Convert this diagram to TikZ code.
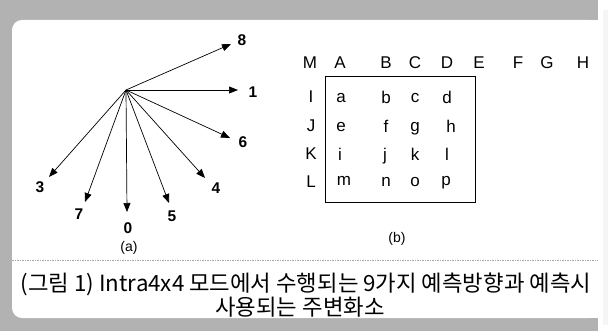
\documentclass[tikz,border=0pt]{standalone}
\usepackage{fontspec}
\setmainfont{Liberation Sans}
\newfontfamily\kr{Noto Sans CJK KR}
\usetikzlibrary{arrows.meta}
\tikzset{
  dirarrow/.style={draw=black, line width=0.7pt, -{Triangle[length=9pt,width=7pt]}},
  numlabel/.style={font=\fontsize{15.5}{17}\selectfont\bfseries, inner sep=0pt},
  letter/.style={font=\fontsize{17}{19}\selectfont, inner sep=0pt},
  sublabel/.style={font=\fontsize{14}{16}\selectfont, inner sep=0pt},
  caption/.style={font=\kr\fontsize{22.3}{26}\selectfont, inner sep=0pt, align=center}
}
\begin{document}
\begin{tikzpicture}[x=1pt,y=-1pt]
\useasboundingbox (0,0) rectangle (612,331);
% scanned frame
\fill[gray!60] (0,0) rectangle (598,331);
\fill[white, rounded corners=10pt] (12,20) rectangle (598,318);
\fill[white] (560,20) rectangle (598,318);
\fill[gray!8] (603,10) rectangle (608,325);
% separator
\coordinate (sepL) at (12,260);
\coordinate (sepR) at (598,260);
\draw[gray!70, line width=0.8pt, dash pattern=on 1.5pt off 1pt] (sepL) -- (sepR);

% (a) prediction directions
\coordinate (o) at (126,90);
\coordinate (t8) at (231,44);
\coordinate (t1) at (238,90);
\coordinate (t6) at (230,138);
\coordinate (t4) at (205,178);
\coordinate (t5) at (169,203);
\coordinate (t0) at (127,212);
\coordinate (t7) at (85,202);
\coordinate (t3) at (49,177);
\foreach \t in {t8,t1,t6,t4,t5,t0,t7,t3}
  \draw[dirarrow] (o) -- (\t);
\node[numlabel] (l8) at (242,40) {8};
\node[numlabel] (l1) at (253,92) {1};
\node[numlabel] (l6) at (243,142) {6};
\node[numlabel] (l4) at (216,188) {4};
\node[numlabel] (l5) at (172,216) {5};
\node[numlabel] (l0) at (128,228) {0};
\node[numlabel] (l7) at (79,214) {7};
\node[numlabel] (l3) at (40,187) {3};
\node[sublabel] (suba) at (129,248) {(a)};

% (b) neighbouring pixels
\node[letter] (M) at (310,63) {M};
\node[letter] (A) at (340,63) {A};
\node[letter] (B) at (386,63) {B};
\node[letter] (C) at (415,63) {C};
\node[letter] (D) at (447,63) {D};
\node[letter] (E) at (479,63) {E};
\node[letter] (F) at (518,63) {F};
\node[letter] (G) at (547,63) {G};
\node[letter] (H) at (583,63) {H};
\node[letter] (I) at (311,97) {I};
\node[letter] (J) at (311,126) {J};
\node[letter] (K) at (311,154) {K};
\node[letter] (L) at (311,182) {L};
\draw[line width=0.7pt] (325,76) rectangle (475,202);
\node[letter] (pa) at (341,98) {a};
\node[letter] (pb) at (386,97) {b};
\node[letter] (pc) at (415,98) {c};
\node[letter] (pd) at (447,97) {d};
\node[letter] (pe) at (341,127) {e};
\node[letter] (pf) at (386,126) {f};
\node[letter] (pg) at (415,129) {g};
\node[letter] (ph) at (451,126) {h};
\node[letter] (pi) at (340,154) {i};
\node[letter] (pj) at (385,156) {j};
\node[letter] (pk) at (415,154) {k};
\node[letter] (pl) at (447,154) {l};
\node[letter] (pm) at (344,181) {m};
\node[letter] (pn) at (386,182) {n};
\node[letter] (po) at (415,182) {o};
\node[letter] (pp) at (446,183) {p};
\node[sublabel] (subb) at (397,239) {(b)};

% caption
\node[caption] (cap1) at (306,284) {(그림 1) Intra4x4 모드에서 수행되는 9가지 예측방향과 예측시};
\node[caption] (cap2) at (300,307) {사용되는 주변화소};
\end{tikzpicture}
\end{document}
